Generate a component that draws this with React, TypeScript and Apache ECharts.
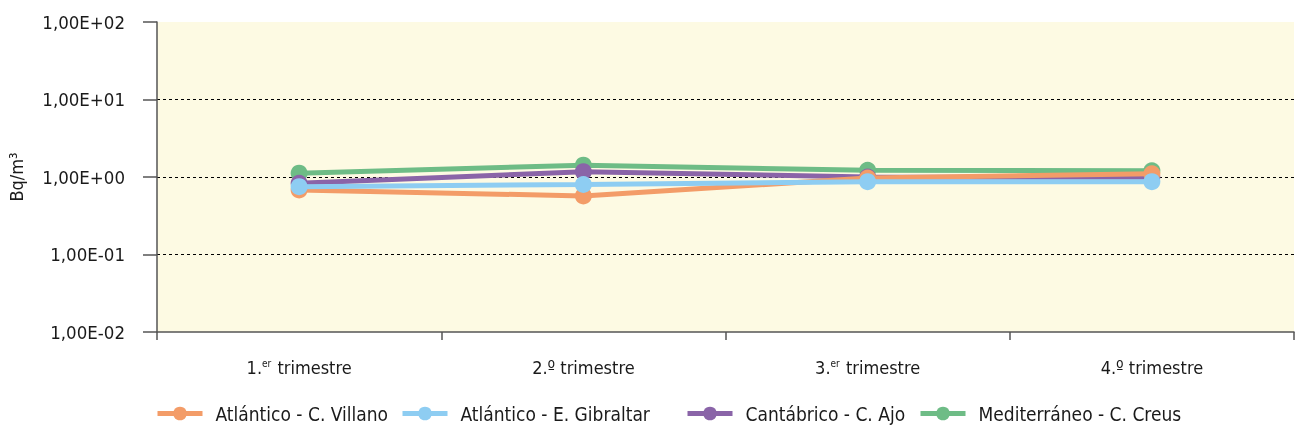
import React, { useEffect, useRef } from "react";
import * as echarts from "echarts";

const categories = ["1.|er| trimestre", "2.º trimestre", "3.|er| trimestre", "4.º trimestre"];
const seriesNames = [
  "Atlántico - C. Villano",
  "Atlántico - E. Gibraltar",
  "Cantábrico - C. Ajo",
  "Mediterráneo - C. Creus",
];
const villano = [0.68, 0.57, 0.97, 1.1];
const gibraltar = [0.75, 0.8, 0.87, 0.87];
const ajo = [0.83, 1.17, 1.0, 0.99];
const creus = [1.12, 1.42, 1.22, 1.2];
const colors = ["#F39C68", "#8ECDF2", "#8A64A8", "#6EBC86"];
const zOrder = [4, 5, 3, 2];
const legendLefts = [155, 400, 685, 918];
const yTickLabels: Record<string, string> = {
  "-2": "1,00E-02",
  "-1": "1,00E-01",
  "0": "1,00E+00",
  "1": "1,00E+01",
  "2": "1,00E+02",
};

const FONT = "'Liberation Sans Narrow', 'DejaVu Sans Condensed', 'Roboto Condensed', sans-serif";

export default function App() {
  const ref = useRef<HTMLDivElement>(null);
  useEffect(() => {
    if (!ref.current) return;
    const chart = echarts.init(ref.current, undefined, { renderer: "svg" });
    const data = [villano, gibraltar, ajo, creus];
    chart.setOption({
      animation: false,
      textStyle: { fontFamily: FONT, color: "#1a1a1a" },
      grid: {
        left: 157,
        right: 1,
        top: 22,
        bottom: 101,
        show: true,
        backgroundColor: "#FDFAE3",
        borderWidth: 0,
        containLabel: false,
        outerBoundsMode: "none",
      },
      legend: seriesNames.map((name, i) => ({
        data: [name],
        left: legendLefts[i],
        top: 404,
        padding: 0,
        itemWidth: 45,
        itemHeight: 17,
        lineStyle: { width: 5 },
        textStyle: { fontFamily: FONT, fontSize: 19, color: "#1a1a1a", padding: [0, 0, 0, 8] },
      })),
      xAxis: {
        type: "category",
        data: categories,
        boundaryGap: true,
        axisLine: { show: true, lineStyle: { color: "#555", width: 1.5 } },
        axisTick: { show: true, length: 8, interval: 0, alignWithLabel: false, lineStyle: { color: "#555", width: 1.5 } },
        axisLabel: {
          interval: 0,
          margin: 26,
          fontFamily: FONT,
          fontSize: 18,
          color: "#1a1a1a",
          formatter: (v: string) => {
            const parts = v.split("|");
            if (parts.length === 3) return `{a|${parts[0]}}{s|${parts[1]}}{a|${parts[2]}}`;
            return `{a|${v}}`;
          },
          rich: {
            a: { fontFamily: FONT, fontSize: 18, color: "#1a1a1a" },
            s: { fontFamily: FONT, fontSize: 10, color: "#1a1a1a", verticalAlign: "top", padding: [0, 1, 8, 0] },
          },
        },
        splitLine: { show: false },
      },
      yAxis: {
        type: "log",
        logBase: 10,
        min: 0.01,
        max: 100,
        name: "Bq/m³",
        nameLocation: "middle",
        nameRotate: 90,
        nameGap: 132,
        nameTextStyle: { fontFamily: FONT, fontSize: 18, color: "#1a1a1a" },
        axisLine: { show: true, lineStyle: { color: "#555", width: 1.5 } },
        axisTick: { show: true, length: 14, inside: false, lineStyle: { color: "#555", width: 1.5 } },
        axisLabel: {
          margin: 32,
          fontFamily: FONT,
          fontSize: 18.5,
          color: "#1a1a1a",
          formatter: (v: number) => yTickLabels[String(Math.round(Math.log10(v)))] ?? "",
        },
        splitLine: {
          show: true,
          showMinLine: false,
          showMaxLine: false,
          lineStyle: { color: "#000", type: [3, 3], width: 1 },
        },
      },
      series: seriesNames.map((name, i) => ({
        name,
        type: "line",
        data: data[i],
        z: zOrder[i],
        symbol: "circle",
        symbolSize: 17,
        lineStyle: { color: colors[i], width: 5 },
        itemStyle: { color: colors[i] },
      })),
    });
    return () => chart.dispose();
  }, []);
  return (
    <div
      ref={ref}
      style={{ position: "fixed", left: 0, top: 0, width: 1295, height: 433 }}
    />
  );
}
